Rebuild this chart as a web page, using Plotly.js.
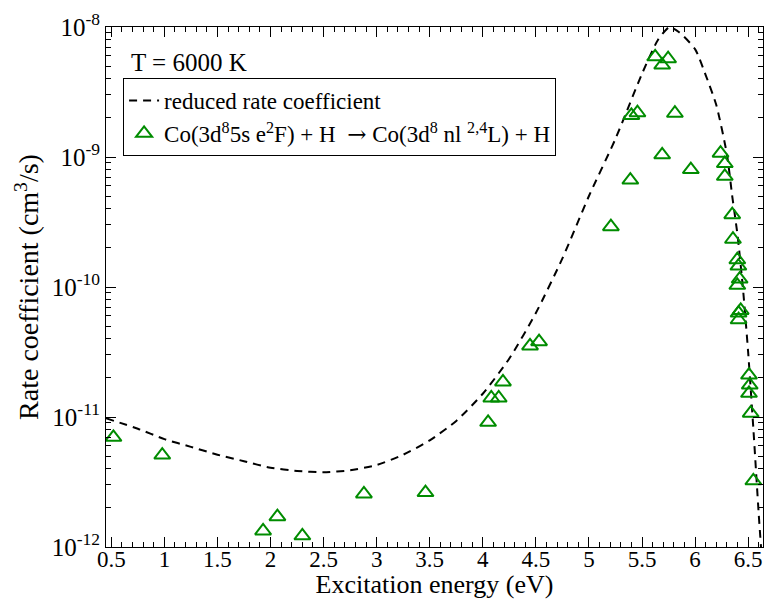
<!DOCTYPE html>
<html>
<head>
<meta charset="utf-8">
<script src="https://cdn.plot.ly/plotly-3.0.1.min.js"></script>
<style>html,body{margin:0;padding:0;background:#fff;}#chart{width:765px;height:599px;}</style>
</head>
<body>
<div id="chart"></div>
<script>
// Reduced rate coefficient (dashed curve)
const curveEnergy = [0.45, 0.75, 1.0, 1.25, 1.5, 1.75, 2.0, 2.25, 2.5, 2.75, 3.0, 3.25, 3.5, 3.75, 4.0, 4.25, 4.5, 4.75, 5.0, 5.25, 5.5, 5.65, 5.76, 5.85, 6.0, 6.1, 6.2, 6.3, 6.35, 6.4, 6.45, 6.5, 6.55, 6.6, 6.63];
const curveRate = [9.77e-12, 8.13e-12, 6.76e-12, 5.89e-12, 5.13e-12, 4.57e-12, 4.07e-12, 3.85e-12, 3.76e-12, 3.89e-12, 4.27e-12, 5.13e-12, 6.61e-12, 9.33e-12, 1.51e-11, 2.82e-11, 6.31e-11, 1.66e-10, 5.01e-10, 1.38e-9, 4.37e-9, 7.94e-9, 1.0e-8, 9.12e-9, 6.76e-9, 4.27e-9, 2.51e-9, 1.05e-9, 5.01e-10, 2.51e-10, 1.0e-10, 3.16e-11, 7.94e-12, 1.78e-12, 7.94e-13];

// Co(3d8 5s e2F) + H -> Co(3d8 nl 2,4L) + H (triangles)
const pointEnergy = [0.52, 0.98, 1.93, 2.065, 2.30, 2.88, 3.46, 4.05, 4.08, 4.15, 4.19, 4.445, 4.53, 5.207, 5.39, 5.40, 5.457, 5.624, 5.69, 5.69, 5.746, 5.81, 5.96, 6.24, 6.28, 6.28, 6.35, 6.357, 6.398, 6.408, 6.42, 6.398, 6.43, 6.41, 6.41, 6.508, 6.515, 6.508, 6.524, 6.549];
const pointRate = [6.98e-12, 5.1e-12, 1.33e-12, 1.71e-12, 1.22e-12, 2.56e-12, 2.62e-12, 9.1e-12, 1.40e-11, 1.40e-11, 1.86e-11, 3.52e-11, 3.8e-11, 2.91e-10, 6.65e-10, 2.09e-9, 2.19e-9, 5.9e-9, 5.1e-9, 1.04e-9, 5.7e-9, 2.17e-9, 8.0e-10, 1.07e-9, 8.9e-10, 7.1e-10, 3.6e-10, 2.33e-10, 1.62e-10, 1.45e-10, 1.15e-10, 1.03e-10, 6.6e-11, 6.3e-11, 5.6e-11, 2.1e-11, 1.76e-11, 1.52e-11, 1.07e-11, 3.23e-12];

const xTickVals = [0.5, 1, 1.5, 2, 2.5, 3, 3.5, 4, 4.5, 5, 5.5, 6, 6.5];
const xTickText = ["0.5", "1", "1.5", "2", "2.5", "3", "3.5", "4", "4.5", "5", "5.5", "6", "6.5"];
const yTickVals = [1e-12, 1e-11, 1e-10, 1e-9, 1e-8];
const yTickText = ["10<sup>-12</sup>", "10<sup>-11</sup>", "10<sup>-10</sup>", "10<sup>-9</sup>", "10<sup>-8</sup>"];

const yMinor = [];
for (let e = -12; e < -8; e++) for (let m = 2; m <= 9; m++) yMinor.push(m * Math.pow(10, e));

const FONT = "Liberation Serif, Times New Roman, serif";
const ARROW = "<span style=\"font-family:DejaVu Serif\">\u2192</span>";

const traces = [
  {
    x: curveEnergy, y: curveRate, type: "scatter", mode: "lines",
    name: "reduced rate coefficient",
    line: {color: "black", width: 2, dash: "8px,6px", shape: "spline", smoothing: 0.6},
    hoverinfo: "skip"
  },
  {
    x: pointEnergy, y: pointRate, type: "scatter", mode: "markers",
    name: "Co(3d<sup>8</sup>5s e<sup>2</sup>F) + H\u00a0\u00a0" + ARROW + " Co(3d<sup>8</sup> nl <sup>2,4</sup>L) + H",
    marker: {symbol: "triangle-up-open", size: 14, color: "#008c00", line: {width: 2, color: "#008c00"}}
  }
];

const layout = {
  width: 765, height: 599,
  margin: {l: 106, r: 2, t: 27, b: 52},
  paper_bgcolor: "white", plot_bgcolor: "white",
  font: {family: FONT, color: "black", size: 22},
  showlegend: true,
  legend: {
    x: 0.026, y: 0.902, xanchor: "left", yanchor: "top",
    bordercolor: "black", borderwidth: 1, bgcolor: "white",
    font: {family: FONT, size: 23, color: "black"},
    tracegroupgap: 0, itemwidth: 30
  },
  xaxis: {
    range: [0.45, 6.64], showgrid: false, zeroline: false,
    showline: true, linecolor: "black", linewidth: 1, mirror: "ticks",
    ticks: "inside", ticklen: 10, tickcolor: "black", tickwidth: 1,
    tickmode: "array", tickvals: xTickVals, ticktext: xTickText,
    tickfont: {family: FONT, size: 23}, ticklabelstandoff: -9,
    minor: {dtick: 0.1, tick0: 0.5, ticks: "inside", ticklen: 5, tickcolor: "black", showgrid: false},
    title: {text: "Excitation energy (eV)", font: {family: FONT, size: 26}, standoff: 2}
  },
  yaxis: {
    type: "log", range: [-12, -8], showgrid: false, zeroline: false,
    showline: true, linecolor: "black", linewidth: 1, mirror: "ticks",
    ticks: "inside", ticklen: 10, tickcolor: "black", tickwidth: 1,
    tickmode: "array", tickvals: yTickVals, ticktext: yTickText,
    tickfont: {family: FONT, size: 25},
    minor: {tickmode: "array", tickvals: yMinor, ticks: "inside", ticklen: 5, tickcolor: "black", showgrid: false},
    title: {text: "Rate coefficient (cm<sup>3</sup>/s)", font: {family: FONT, size: 28}, standoff: 4}
  },
  annotations: [
    {text: "T = 6000 K", xref: "paper", yref: "paper", x: 0.035, y: 0.932, xanchor: "left", yanchor: "middle",
     showarrow: false, font: {family: FONT, size: 25, color: "black"}}
  ]
};

Plotly.newPlot("chart", traces, layout, {displayModeBar: false, staticPlot: true});
</script>
</body>
</html>
